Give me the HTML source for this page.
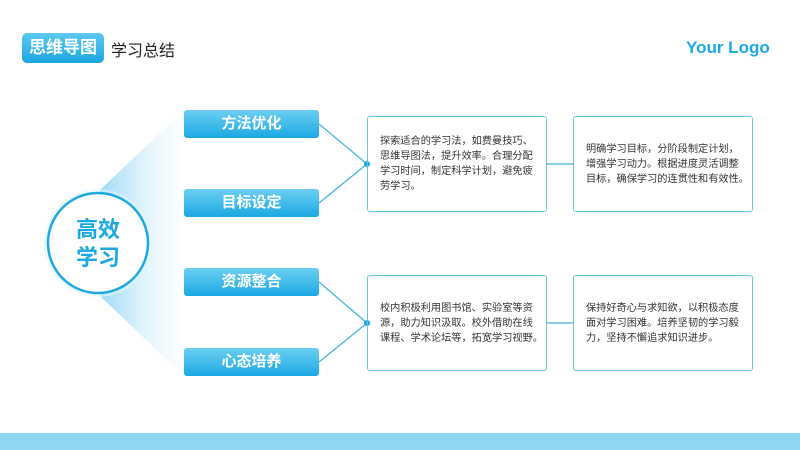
<!DOCTYPE html>
<html><head><meta charset="utf-8"><style>
body{margin:0;width:800px;height:450px;position:relative;overflow:hidden;background:#fff;font-family:"Liberation Sans","Noto Sans CJK SC",sans-serif}
.abs{position:absolute}
.tag{left:22px;top:33px;width:82px;height:30px;border-radius:5px;background:linear-gradient(#5ccaf0,#1aa6e2);color:#fff;font-weight:bold;font-size:17px;line-height:30px;text-align:center}
.br{left:184px;width:135px;height:28px;border-radius:3px;background:linear-gradient(#6ccff2,#1ba8e3);color:#fff;font-weight:bold;font-size:15px;line-height:28px;text-align:center}
.tb{width:180px;height:96px;border:1.5px solid #6cc3e0;border-radius:3px;box-sizing:border-box;font-size:10.2px;line-height:15px;color:#333;display:flex;align-items:center;padding:0 0 0 12px;white-space:nowrap}
</style></head><body>
<svg class="abs" style="left:0;top:0" width="800" height="450">
<defs><linearGradient id="f" x1="0" x2="1" y1="0" y2="0"><stop offset="0" stop-color="#8fd6f5" stop-opacity="0.9"/><stop offset="1" stop-color="#e6f6fd" stop-opacity="0.1"/></linearGradient></defs>
<polygon points="100,190 184,110 184,376 100,296" fill="url(#f)"/>
<g stroke="#3fb3df" stroke-width="1.2" fill="none">
<line x1="319" y1="124" x2="367" y2="164"/><line x1="319" y1="203" x2="367" y2="164"/>
<line x1="319" y1="282" x2="367" y2="323"/><line x1="319" y1="362" x2="367" y2="323"/>
<line x1="547" y1="164" x2="573" y2="164"/><line x1="547" y1="323" x2="573" y2="323"/>
</g>
<circle cx="367" cy="164" r="3" fill="#1aa6e2"/><circle cx="367" cy="323" r="3" fill="#1aa6e2"/>
<circle cx="98" cy="243" r="54" fill="#e3f5fd" opacity="0.6"/>
<circle cx="98" cy="243" r="50" fill="#fff" stroke="#1ba8e3" stroke-width="2.5"/>
<text x="98" y="237" font-size="22" font-weight="bold" fill="#1ba8e3" text-anchor="middle" font-family="Liberation Sans,Noto Sans CJK SC,sans-serif">高效</text>
<text x="98" y="265" font-size="22" font-weight="bold" fill="#1ba8e3" text-anchor="middle" font-family="Liberation Sans,Noto Sans CJK SC,sans-serif">学习</text>
</svg>
<div class="abs tag">思维导图</div>
<div class="abs" style="left:111px;top:37px;font-size:16px;color:#222">学习总结</div>
<div class="abs" style="left:686px;top:38px;font-size:17px;font-weight:bold;color:#1ba8e3">Your Logo</div>
<div class="abs br" style="top:110px">方法优化</div>
<div class="abs br" style="top:189px">目标设定</div>
<div class="abs br" style="top:268px">资源整合</div>
<div class="abs br" style="top:348px">心态培养</div>
<div class="abs tb" style="left:367px;top:116px"><div>探索适合的学习法，如费曼技巧、<br>思维导图法，提升效率。合理分配<br>学习时间，制定科学计划，避免疲<br>劳学习。</div></div>
<div class="abs tb" style="left:573px;top:116px"><div>明确学习目标，分阶段制定计划，<br>增强学习动力。根据进度灵活调整<br>目标，确保学习的连贯性和有效性。</div></div>
<div class="abs tb" style="left:367px;top:275px"><div>校内积极利用图书馆、实验室等资<br>源，助力知识汲取。校外借助在线<br>课程、学术论坛等，拓宽学习视野。</div></div>
<div class="abs tb" style="left:573px;top:275px"><div>保持好奇心与求知欲，以积极态度<br>面对学习困难。培养坚韧的学习毅<br>力，坚持不懈追求知识进步。</div></div>
<div class="abs" style="left:0;top:433px;width:800px;height:17px;background:#8fd7f3"></div>
</body></html>
